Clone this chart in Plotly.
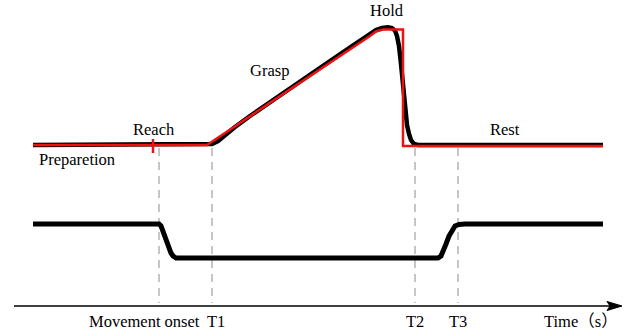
import plotly.graph_objects as go

# Time axis in display units (0..626), vertical position in display units (0 at top)
# Upper trace: measured grip signal (black) and idealised phase profile (red)
t_signal = [33, 120, 206, 212, 218, 225, 235, 250, 270, 300, 330, 355, 370, 376, 382,
            388, 392, 395, 397, 399, 401, 403, 405, 407, 409, 411, 414, 418, 500, 603]
y_signal = [145, 145, 145, 144, 141, 135, 127, 116, 102, 81, 61, 44, 34, 30, 28,
            27.3, 28, 30.5, 36, 46, 64, 88, 110, 125, 134, 140, 144, 145, 145, 145]

t_model = [33, 207, 370, 376, 383, 403, 403, 603]
y_model = [145, 145, 36, 31.5, 29.5, 29.5, 146, 146]

# Lower trace: movement state signal
t_state = [33, 159, 161, 163, 166, 169, 171, 173, 176, 300, 438, 441, 443, 446, 449,
           452, 455, 459, 465, 603]
y_state = [224, 224, 226, 232, 240, 248, 253, 256, 258, 258, 258, 256, 252, 244, 236,
           230, 226, 224.5, 224, 224]

# Reach marker on the upper trace
reach_t = [153, 153]
reach_y = [139, 153]

# Event times (dashed markers) and their axis labels
event_t = [159, 212, 415, 458]
event_top, event_bottom = 148, 303
axis_y = 306
axis_start, axis_end = 14, 622

tick_labels = ["T1", "T2", "T3"]
tick_t = [216, 415, 458]

phase_labels = ["Preparetion", "Reach", "Grasp", "Hold", "Rest"]
phase_t = [77, 154, 269, 387, 505]
phase_y = [159, 129, 70, 10, 129]

serif = "Liberation Serif, Times New Roman, serif"
font = dict(family=serif, size=16.5, color="black")

fig = go.Figure()

fig.add_trace(go.Scatter(x=t_signal, y=y_signal, mode="lines",
                         line=dict(color="black", width=4.5), hoverinfo="skip"))
fig.add_trace(go.Scatter(x=t_model, y=y_model, mode="lines",
                         line=dict(color="#ee1111", width=2.5), hoverinfo="skip"))
fig.add_trace(go.Scatter(x=reach_t, y=reach_y, mode="lines",
                         line=dict(color="#ee1111", width=2.5), hoverinfo="skip"))
fig.add_trace(go.Scatter(x=t_state, y=y_state, mode="lines",
                         line=dict(color="black", width=5), hoverinfo="skip"))

shapes = []
for t in event_t:
    shapes.append(dict(type="line", xref="x", yref="y", x0=t, x1=t,
                       y0=event_top, y1=event_bottom, layer="below",
                       line=dict(color="#b4b4b4", width=1.5, dash="8px,6px")))
# time axis with arrow head
shapes.append(dict(type="line", xref="x", yref="y", x0=axis_start, x1=axis_end - 8,
                   y0=axis_y, y1=axis_y, line=dict(color="black", width=1.5)))
shapes.append(dict(type="path", xref="x", yref="y",
                   path=f"M {axis_end - 15},{axis_y - 4.5} L {axis_end},{axis_y} "
                        f"L {axis_end - 15},{axis_y + 4.5} L {axis_end - 12},{axis_y} Z",
                   fillcolor="black", line=dict(color="black", width=1)))

annotations = []
for txt, x, y in zip(phase_labels, phase_t, phase_y):
    annotations.append(dict(x=x, y=y, text=txt, showarrow=False, font=font))
annotations.append(dict(x=202, y=321, text="Movement onset", showarrow=False,
                        xanchor="right", font=font))
for txt, x in zip(tick_labels, tick_t):
    annotations.append(dict(x=x, y=321, text=txt, showarrow=False, font=font))
annotations.append(dict(x=620, y=321, text="Time（s）", showarrow=False, xanchor="right",
                        font=dict(family="Liberation Serif, Noto Sans CJK SC",
                                  size=16.5, color="black")))

fig.update_layout(
    width=626, height=330,
    margin=dict(l=0, r=0, t=0, b=0),
    paper_bgcolor="white", plot_bgcolor="white",
    showlegend=False,
    xaxis=dict(range=[0, 626], visible=False, fixedrange=True),
    yaxis=dict(range=[330, 0], visible=False, fixedrange=True),
    shapes=shapes,
    annotations=annotations,
)

fig.write_html("out.html")
